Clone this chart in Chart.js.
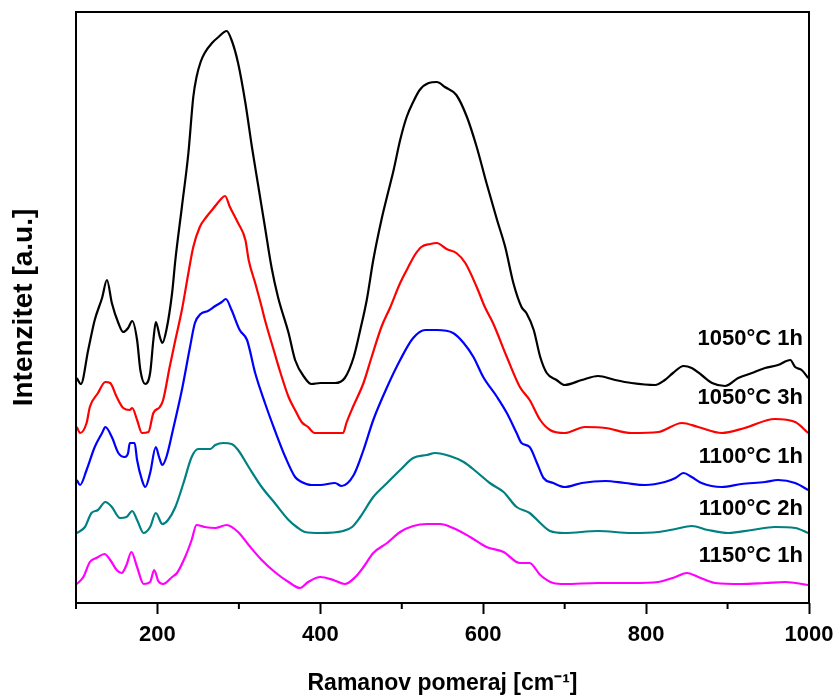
<!DOCTYPE html>
<html>
<head>
<meta charset="utf-8">
<script src="https://cdn.jsdelivr.net/npm/chart.js@4"></script>
<style>
  html, body { margin: 0; padding: 0; background: #fff; }
  #wrap { width: 835px; height: 698px; }
</style>
</head>
<body>
<div id="wrap"><canvas id="ramanChart"></canvas></div>
<script>
// sample labels
const sampleLabels = ["1050°C 1h", "1050°C 3h", "1100°C 1h", "1100°C 2h", "1150°C 1h"];
const sampleColors = ["#000000", "#ff0000", "#0000ff", "#008080", "#ff00ff"];

// x tick labels (cm-1)
const xTickLabels = [200, 400, 600, 800, 1000];

// Raman shift / intensity (a.u., stacked offsets as in the figure)
const shift1050_1h = [101,106,115,123,132,138,144,152,158,164,169,175,179,185,191,195,198,203,206,211,218,222,230,238,244,248,253,258,267,275,285,291,299,308,316,324,332,340,348,361,369,381,389,400,418,430,441,449,457,465,475,483,490,498,506,514,522,533,543,553,567,580,592,604,617,627,637,647,653,662,670,678,690,700,721,741,762,782,811,823,833,846,856,868,881,897,913,930,946,962,977,983,991,999];
const int1050_1h = [225,219,253,283,305,323,300,280,271,275,282,263,233,219,230,263,281,266,260,273,310,343,396,450,506,526,541,550,560,566,572,563,540,500,456,416,376,336,306,270,243,225,219,220,220,225,246,273,303,343,383,410,433,463,486,501,513,520,521,516,508,486,456,420,383,356,320,296,290,273,246,230,223,218,223,227,223,220,218,223,230,237,235,228,220,217,225,230,235,238,243,236,233,225];

const shift1050_3h = [101,105,113,117,127,136,142,150,158,166,169,175,181,189,195,203,207,215,222,230,238,244,252,260,269,277,283,289,299,308,312,320,328,332,342,350,361,369,377,385,393,412,428,432,440,453,463,475,486,498,508,516,524,535,543,555,567,578,592,602,612,629,645,657,670,682,700,725,750,782,815,844,864,893,921,958,983,999];
const int1050_3h = [176,170,180,196,210,221,220,206,195,193,195,183,170,171,190,196,203,236,263,293,330,356,376,386,395,403,407,396,380,363,343,320,296,283,255,233,206,193,181,176,170,170,170,180,196,220,246,276,296,320,336,348,356,359,360,354,350,340,316,296,280,246,216,203,183,173,170,176,175,170,171,180,176,170,175,184,181,170];

const shift1100_1h = [101,105,113,123,132,136,144,152,160,164,166,172,175,181,185,191,198,202,206,211,219,230,240,246,253,262,271,279,284,291,301,310,320,332,344,357,369,377,389,400,418,426,441,453,465,482,498,514,529,543,563,576,588,600,617,629,641,647,657,666,674,686,700,721,750,774,799,823,836,846,856,868,893,917,946,962,983,999];
const int1100_1h = [123,118,133,156,170,176,166,150,146,150,160,160,143,123,116,130,156,146,138,146,173,213,256,280,289,292,297,301,304,293,273,263,230,200,173,146,126,121,118,118,120,117,128,153,183,216,243,265,273,273,270,260,246,226,206,190,170,160,156,140,125,120,116,120,122,120,118,121,125,130,126,120,116,119,121,123,120,113];

const shift1100_2h = [101,111,119,127,136,144,154,162,169,175,183,191,198,206,213,222,232,242,250,265,271,281,291,299,312,328,344,361,371,381,400,428,439,449,465,482,498,514,531,541,559,576,592,608,625,641,657,670,682,700,741,782,815,836,856,876,901,930,958,983,999];
const int1100_2h = [70,76,90,93,101,96,85,86,92,83,70,76,90,79,83,96,120,146,154,154,158,160,159,153,136,116,100,83,76,71,70,72,76,86,106,120,133,145,148,150,147,141,131,120,111,96,90,80,72,70,72,70,71,74,77,73,70,73,76,75,70];

const shift1150_1h = [101,109,117,125,135,142,150,156,162,168,175,183,191,196,201,207,218,224,234,242,248,258,271,285,299,312,328,344,361,375,385,400,416,430,443,453,465,482,498,514,531,547,563,584,604,625,645,657,670,686,700,741,782,815,836,850,864,885,917,946,971,999];
const int1150_1h = [19,26,41,45,49,43,33,30,38,51,36,19,21,33,22,19,26,30,46,63,78,76,75,78,71,58,43,31,21,15,21,26,23,19,26,36,50,60,71,77,79,79,75,66,56,51,40,40,28,20,19,20,20,21,26,30,26,20,19,20,21,18];

const seriesX = [shift1050_1h, shift1050_3h, shift1100_1h, shift1100_2h, shift1150_1h];
const seriesY = [int1050_1h, int1050_3h, int1100_1h, int1100_2h, int1150_1h];

const FONT = "'Liberation Sans', Arial, sans-serif";

// frame, minor ticks and curve labels
const decorPlugin = {
  id: 'decor',
  afterDraw(chart) {
    const { ctx, chartArea: a, scales } = chart;
    ctx.save();
    ctx.strokeStyle = '#000';
    ctx.lineWidth = 2;
    ctx.strokeRect(a.left, a.top, a.right - a.left, a.bottom - a.top);
    // minor ticks
    for (let v = 100; v <= 900; v += 200) {
      const x = scales.x.getPixelForValue(v);
      ctx.beginPath();
      ctx.moveTo(x, a.bottom);
      ctx.lineTo(x, a.bottom + 6);
      ctx.stroke();
    }
    // labels
    ctx.fillStyle = '#000';
    ctx.font = "bold 22px " + FONT;
    ctx.textAlign = 'right';
    ctx.textBaseline = 'middle';
    const labelY = [339, 398, 457, 509, 556];
    sampleLabels.forEach((t, i) => ctx.fillText(t, 803, labelY[i]));
    ctx.restore();
  }
};

const ctx = document.getElementById('ramanChart').getContext('2d');

const ramanChart = new Chart(ctx, {
  type: 'line',
  data: {
    datasets: sampleLabels.map((name, i) => ({
      label: name,
      data: seriesX[i].map((x, j) => ({ x: x, y: seriesY[i][j] })),
      borderColor: sampleColors[i],
      borderWidth: 2.2,
      pointRadius: 0,
      fill: false,
      cubicInterpolationMode: 'monotone'
    }))
  },
  options: {
    responsive: true,
    maintainAspectRatio: false,
    animation: false,
    layout: { padding: { left: 0, right: 26, top: 12, bottom: 0 } },
    plugins: {
      legend: { display: false },
      tooltip: { enabled: false }
    },
    scales: {
      x: {
        type: 'linear',
        min: 100,
        max: 1000,
        border: { display: false },
        grid: {
          drawOnChartArea: false,
          drawTicks: true,
          tickLength: 11,
          tickWidth: 2,
          tickColor: c => (c.tick && xTickLabels.includes(c.tick.value)) ? '#000' : 'rgba(0,0,0,0)'
        },
        ticks: {
          stepSize: 100,
          autoSkip: false,
          maxRotation: 0,
          color: '#000',
          padding: 8,
          font: { family: FONT, size: 22, weight: 'bold' },
          callback: v => xTickLabels.includes(v) ? String(v) : ''
        },
        title: {
          display: true,
          text: 'Ramanov pomeraj [cm⁻¹]',
          color: '#000',
          font: { family: FONT, size: 23, weight: 'bold' },
          padding: { top: 0, bottom: 1 }
        },
        afterFit: s => { s.height = 95; s.paddingLeft = 0; s.paddingRight = 0; }
      },
      y: {
        min: 0,
        max: 591,
        border: { display: false },
        grid: { display: false },
        ticks: { display: false },
        title: {
          display: true,
          text: 'Intenzitet [a.u.]',
          color: '#000',
          font: { family: FONT, size: 28, weight: 'bold' },
          padding: { top: 7, bottom: 0 }
        },
        afterFit: s => { s.width = 76; }
      }
    }
  },
  plugins: [decorPlugin]
});
</script>
</body>
</html>
